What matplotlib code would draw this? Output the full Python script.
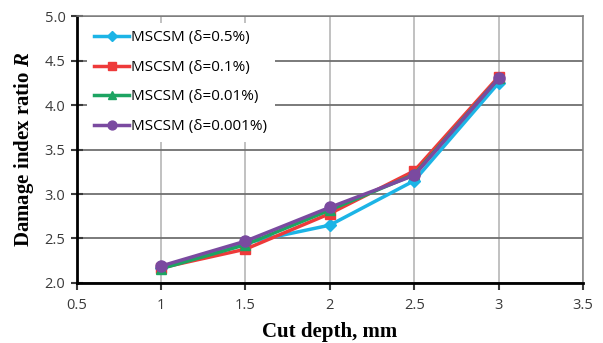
import matplotlib
matplotlib.use("Agg")
from matplotlib import pyplot as plt

depth = [1, 1.5, 2, 2.5, 3]
r_05 = [2.17, 2.45, 2.65, 3.15, 4.25]
r_01 = [2.17, 2.38, 2.78, 3.26, 4.32]
r_001 = [2.16, 2.43, 2.82, 3.22, 4.30]
r_0001 = [2.19, 2.47, 2.85, 3.21, 4.30]
labels = ["MSCSM (δ=0.5%)", "MSCSM (δ=0.1%)", "MSCSM (δ=0.01%)", "MSCSM (δ=0.001%)"]

plt.rcParams["font.family"] = ["Open Sans", "DejaVu Sans"]
plt.rcParams["mathtext.fontset"] = "custom"
plt.rcParams["mathtext.it"] = "Liberation Serif:italic:bold"

fig = plt.figure(figsize=(6.03, 3.43), dpi=100)
ax = fig.add_axes([0.127, 0.175, 0.84, 0.778])

series = [
    (r_05, "#1cb4e6", "D", 6),
    (r_01, "#ee3a3a", "s", 7),
    (r_001, "#1da462", "^", 7),
    (r_0001, "#7a4aa0", "o", 8),
]
for (vals, col, mk, ms), lab in zip(series, labels):
    ax.plot(depth, vals, color=col, marker=mk, markersize=ms, linewidth=2.5, label=lab)

ax.set_xlim(0.5, 3.5)
ax.set_ylim(2.0, 5.0)
ax.set_xticks([0.5, 1, 1.5, 2, 2.5, 3, 3.5])
ax.set_xticklabels(["0.5", "1", "1.5", "2", "2.5", "3", "3.5"])
ax.set_yticks([2.0, 2.5, 3.0, 3.5, 4.0, 4.5, 5.0])
ax.set_yticklabels(["2.0", "2.5", "3.0", "3.5", "4.0", "4.5", "5.0"])
ax.tick_params(axis="both", labelsize=10.5, colors="#3a3a3a", width=1.5)
ax.tick_params(axis="y", direction="inout", length=8, pad=4)
ax.tick_params(axis="x", direction="out", length=5, pad=6)

ax.grid(axis="y", color="#707070", linewidth=1.3)
ax.grid(axis="x", color="#b0b0b0", linewidth=1.1)
ax.set_axisbelow(True)
for s in ["top", "right"]:
    ax.spines[s].set_color("#808080")
    ax.spines[s].set_linewidth(1.1)
for s in ["left", "bottom"]:
    ax.spines[s].set_color("black")
    ax.spines[s].set_linewidth(2)

ax.set_xlabel("Cut depth, mm", fontsize=15, fontweight="bold", family="Liberation Serif", labelpad=6)
ax.set_ylabel("Damage index ratio $\\it{R}$", fontsize=15, fontweight="bold", family="Liberation Serif", labelpad=6)

leg = ax.legend(loc="upper left", bbox_to_anchor=(0.02, 0.975), frameon=True, fontsize=11,
                handlelength=2.3, labelspacing=0.95, borderaxespad=0.0, handletextpad=0.1,
                markerscale=0.8, borderpad=0.5, fancybox=False)
leg.get_frame().set_edgecolor("none")
leg.get_frame().set_facecolor("white")
leg.get_frame().set_alpha(1)

fig.savefig("out.png", dpi=100)
